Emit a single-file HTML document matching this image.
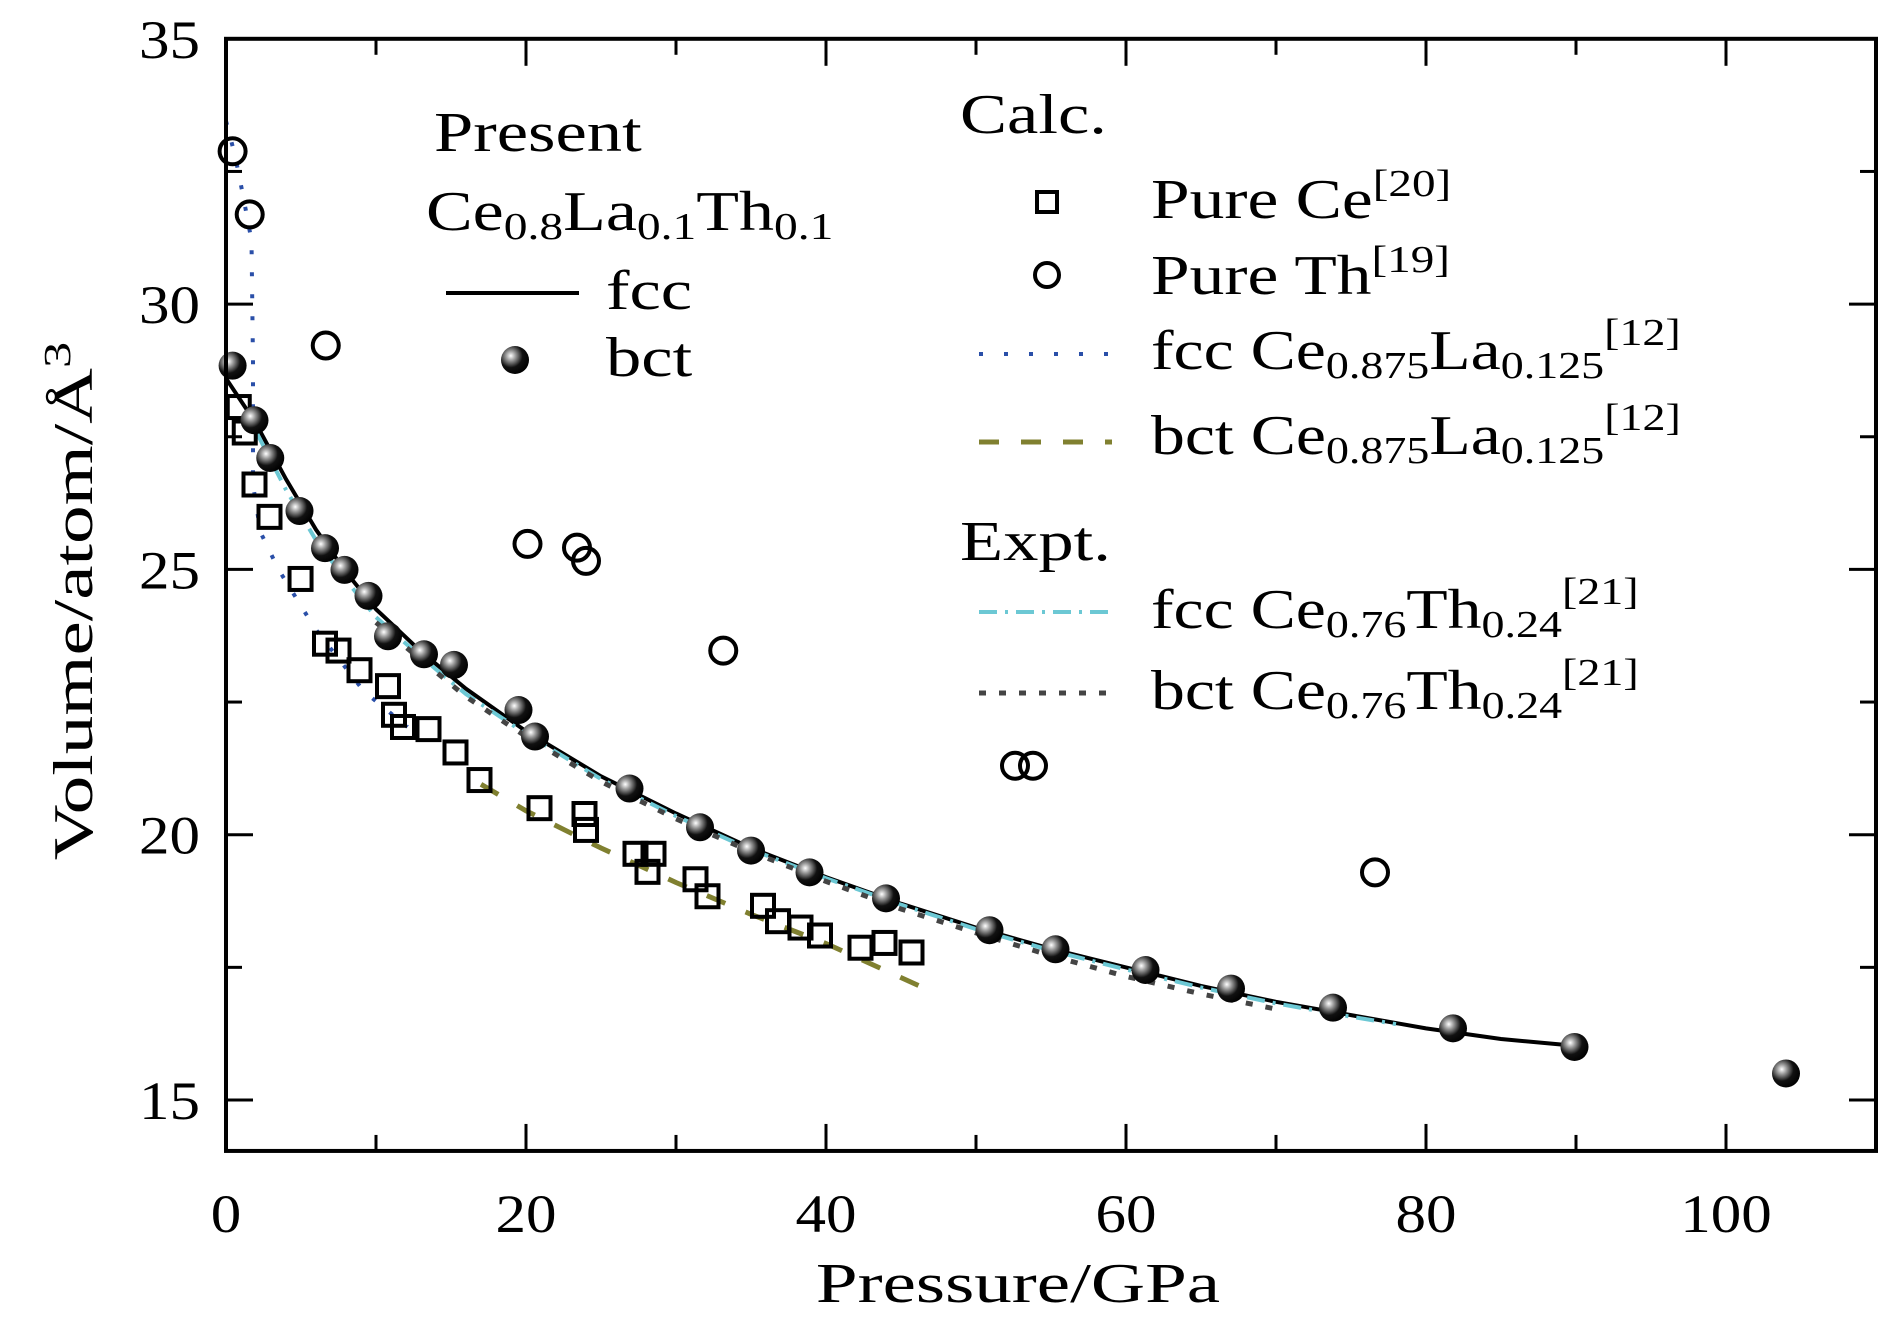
<!DOCTYPE html>
<html><head><meta charset="utf-8"><style>
body{margin:0;background:#fff}
svg text{font-family:"Liberation Serif",serif;fill:#000}
</style></head><body>
<svg id="chart" width="1890" height="1323" viewBox="0 0 1890 1323" xmlns="http://www.w3.org/2000/svg">
<defs>
<radialGradient id="ball" cx="0.35" cy="0.35" r="0.7">
<stop offset="0" stop-color="#fff"/><stop offset="0.25" stop-color="#999"/><stop offset="0.6" stop-color="#111"/><stop offset="1" stop-color="#000"/>
</radialGradient>
</defs>
<g id="marks"></g>
<g id="axes"></g>
<g>
<text transform="translate(434,151) scale(1.26,1)" font-size="56">Present</text>
<text transform="translate(426,230) scale(1.25,1)" font-size="56">Ce<tspan font-size="38" dy="9">0.8</tspan><tspan dy="-9">La</tspan><tspan font-size="38" dy="9">0.1</tspan><tspan dy="-9">Th</tspan><tspan font-size="38" dy="9">0.1</tspan></text>
<line x1="446" y1="293" x2="579" y2="293" stroke="#000" stroke-width="4"/>
<text transform="translate(606,309) scale(1.26,1)" font-size="56">fcc</text>
<circle cx="515" cy="360" r="14" fill="url(#ball)"/>
<text transform="translate(606,376) scale(1.26,1)" font-size="56">bct</text>
</g>
<g>
<text transform="translate(960,133) scale(1.26,1)" font-size="56">Calc.</text>
<rect x="1037" y="192" width="20" height="20" fill="none" stroke="#000" stroke-width="4"/>
<text transform="translate(1151,218) scale(1.24,1)" font-size="56">Pure Ce<tspan font-size="38" dy="-22">[20]</tspan></text>
<circle cx="1047" cy="275" r="12" fill="none" stroke="#000" stroke-width="4"/>
<text transform="translate(1151,294) scale(1.24,1)" font-size="56">Pure Th<tspan font-size="38" dy="-22">[19]</tspan></text>
<line x1="979" y1="354" x2="1112" y2="354" stroke="#2a4fa8" stroke-width="4" stroke-dasharray="4,21"/>
<text transform="translate(1151,369) scale(1.21,1)" font-size="56">fcc Ce<tspan font-size="38" dy="9">0.875</tspan><tspan dy="-9">La</tspan><tspan font-size="38" dy="9">0.125</tspan><tspan font-size="38" dy="-33">[12]</tspan></text>
<line x1="979" y1="442" x2="1112" y2="442" stroke="#808030" stroke-width="5" stroke-dasharray="20,22"/>
<text transform="translate(1151,454) scale(1.21,1)" font-size="56">bct Ce<tspan font-size="38" dy="9">0.875</tspan><tspan dy="-9">La</tspan><tspan font-size="38" dy="9">0.125</tspan><tspan font-size="38" dy="-33">[12]</tspan></text>
<text transform="translate(960,560) scale(1.26,1)" font-size="56">Expt.</text>
<line x1="979" y1="612" x2="1112" y2="612" stroke="#6cc8d4" stroke-width="4" stroke-dasharray="18,8,3,8"/>
<text transform="translate(1151,628) scale(1.21,1)" font-size="56">fcc Ce<tspan font-size="38" dy="9">0.76</tspan><tspan dy="-9">Th</tspan><tspan font-size="38" dy="9">0.24</tspan><tspan font-size="38" dy="-33">[21]</tspan></text>
<line x1="979" y1="693" x2="1112" y2="693" stroke="#444" stroke-width="5" stroke-dasharray="7,13"/>
<text transform="translate(1151,709) scale(1.21,1)" font-size="56">bct Ce<tspan font-size="38" dy="9">0.76</tspan><tspan dy="-9">Th</tspan><tspan font-size="38" dy="9">0.24</tspan><tspan font-size="38" dy="-33">[21]</tspan></text>
</g>
<text transform="translate(1018,1302) scale(1.34,1)" font-size="56" text-anchor="middle">Pressure/GPa</text>
<text transform="translate(92,601) rotate(-90) scale(1.38,1)" font-size="56" text-anchor="middle">Volume/atom/Å<tspan font-size="38" dy="-22">3</tspan></text>
</svg>
<script>
const xTicks=[0,20,40,60,80,100];
const yTicks=[15,20,25,30,35];
const ceP=[0.85,1.25,1.9,2.9,4.97,6.6,7.5,8.9,10.8,11.2,11.8,13.5,15.3,16.9,20.9,23.9,24.0,27.3,28.5,28.1,31.3,32.1,35.8,36.8,38.3,39.6,42.3,43.9,45.7];
const ceV=[28.06,27.58,26.6,25.99,24.82,23.6,23.47,23.1,22.8,22.26,22.03,21.99,21.55,21.03,20.5,20.39,20.09,19.64,19.64,19.3,19.16,18.84,18.66,18.37,18.25,18.1,17.87,17.96,17.78];
const thP=[0.44,1.58,6.65,20.1,23.4,24.0,33.15,52.6,53.8,76.6];
const thV=[32.88,31.69,29.22,25.48,25.41,25.16,23.47,21.3,21.3,19.29];
const bctP=[0.44,1.9,2.95,4.9,6.6,7.9,9.5,10.8,13.2,15.2,19.5,20.6,26.9,31.6,35.0,38.9,44.0,50.9,55.3,61.3,67.0,73.8,81.8,89.9,104.0];
const bctV=[28.84,27.81,27.1,26.1,25.4,24.99,24.5,23.74,23.4,23.2,22.35,21.85,20.87,20.14,19.7,19.29,18.8,18.2,17.84,17.45,17.1,16.74,16.35,16.0,15.5];
const fccP=[0,2,4,6,8,10,13,16,20,25,30,35,40,45,50,55,60,65,70,75,80,85,90];
const fccV=[28.6,27.75,26.7,25.75,24.95,24.25,23.45,22.75,21.95,21.1,20.4,19.75,19.2,18.7,18.25,17.85,17.5,17.15,16.85,16.6,16.35,16.15,16.02];
const ceLaFccP=[0,0.6,1.1,1.7,1.8,1.8,2.3,3.5,5.9,9.2,12.1];
const ceLaFccV=[33.45,32.8,32.1,31.2,28.9,26.6,25.7,25.0,23.9,22.7,22.03];
const ceLaBctP=[17,20,25,30,35,40,47];
const ceLaBctV=[20.95,20.45,19.75,19.1,18.5,17.95,17.05];
const ceThFccP=[2,4,6,8,10,13,16,20,25,30,35,40,45,50,55,60,65,70,75,78];
const ceThFccV=[27.6,26.5,25.55,24.8,24.1,23.35,22.65,21.9,21.05,20.35,19.72,19.18,18.68,18.22,17.82,17.46,17.12,16.82,16.57,16.43];
const ceThBctP=[10,13,16,20,25,30,35,40,45,50,55,60,65,70.6];
const ceThBctV=[24.0,23.3,22.6,21.85,21.0,20.3,19.68,19.12,18.6,18.15,17.72,17.33,17.0,16.68];

const X=p=>226+15*p, Y=v=>38.8+(35-v)*53.06;
const NS='http://www.w3.org/2000/svg';
const marks=document.getElementById('marks'), axes=document.getElementById('axes');
function mk(tag,attrs,parent){const e=document.createElementNS(NS,tag);for(const k in attrs)e.setAttribute(k,attrs[k]);parent.appendChild(e);return e;}
function line(P,V,stroke,w,dash,name){
  const d=P.map((p,i)=>(i?'L':'M')+X(p).toFixed(1)+','+Y(V[i]).toFixed(1)).join('');
  const e=mk('path',{d:d,fill:'none',stroke:stroke,'stroke-width':w,'stroke-dasharray':dash},marks);
  
  
}
line(ceLaFccP,ceLaFccV,'#2a4fa8',4,'4,18','fcc-ce-la-line');
line(ceLaBctP,ceLaBctV,'#808030',5,'20,22','bct-ce-la-line');
line(fccP,fccV,'#000',4,'none','fcc-present-line');
line(ceThFccP,ceThFccV,'#6cc8d4',4,'18,8,3,8','fcc-ce-th-line');
line(ceThBctP,ceThBctV,'#444',5,'7,13','bct-ce-th-line');
ceP.forEach((p,i)=>{const e=mk('rect',{x:X(p)-11,y:Y(ceV[i])-11,width:22,height:22,fill:'none',stroke:'#000','stroke-width':4},marks);

});
thP.forEach((p,i)=>{const e=mk('circle',{cx:X(p),cy:Y(thV[i]),r:13,fill:'none',stroke:'#000','stroke-width':4},marks);

});
bctP.forEach((p,i)=>{const e=mk('circle',{cx:X(p),cy:Y(bctV[i]),r:14,fill:'url(#ball)'},marks);

});
const L=X(0),R=X(110),T=Y(35),B=Y(14.04);
const fr=mk('rect',{x:L,y:T,width:R-L,height:B-T,fill:'none',stroke:'#000','stroke-width':4},axes);


for(let p=0;p<=110;p+=10){const len=p%20===0?27:16;
  mk('line',{x1:X(p),y1:B,x2:X(p),y2:B-len,stroke:'#000','stroke-width':3},axes);
  mk('line',{x1:X(p),y1:T,x2:X(p),y2:T+len,stroke:'#000','stroke-width':3},axes);}
for(let v=15;v<=35;v+=2.5){const len=v%5===0?27:16;
  mk('line',{x1:L,y1:Y(v),x2:L+len,y2:Y(v),stroke:'#000','stroke-width':3},axes);
  mk('line',{x1:R,y1:Y(v),x2:R-len,y2:Y(v),stroke:'#000','stroke-width':3},axes);}
xTicks.forEach(t=>{const e=mk('text',{transform:'translate('+X(t)+',1232) scale(1.13,1)','font-size':54,'text-anchor':'middle'},axes);e.textContent=t;

});
yTicks.forEach(t=>{const e=mk('text',{transform:'translate(200,'+(Y(t)+19)+') scale(1.13,1)','font-size':54,'text-anchor':'end'},axes);e.textContent=t;

});
</script>
</body></html>
